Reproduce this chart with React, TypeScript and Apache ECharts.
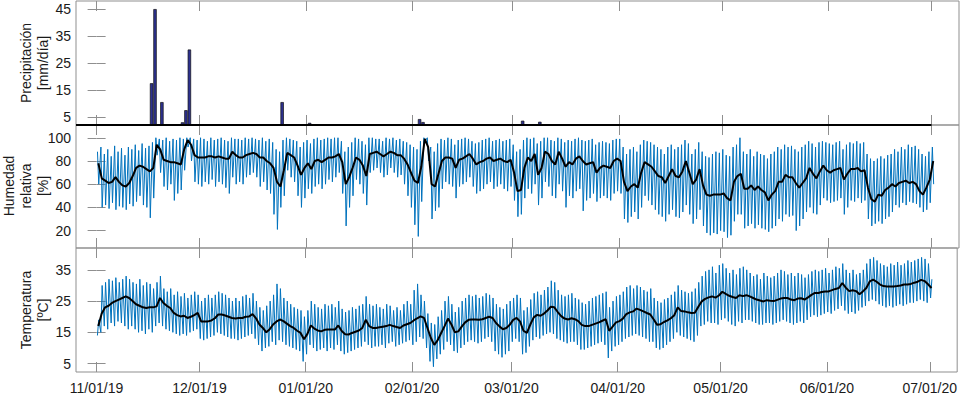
import React, { useEffect, useRef } from "react";
import * as echarts from "echarts";

// ---------- DATA ----------
const START_DATE = "2019-11-01";
const tickDates = ["2019-11-01", "2019-12-01", "2020-01-01", "2020-02-01", "2020-03-01", "2020-04-01", "2020-05-01", "2020-06-01", "2020-07-01"];
const tickLabels = ["11/01/19", "12/01/19", "01/01/20", "02/01/20", "03/01/20", "04/01/20", "05/01/20", "06/01/20", "07/01/20"];

const precipDates = ["2019-11-17", "2019-11-18", "2019-11-20", "2019-11-26", "2019-11-27", "2019-11-28", "2019-12-25", "2020-01-02", "2020-02-03", "2020-02-04", "2020-03-04", "2020-03-09"];
const precipValues = [17.5, 45, 10.5, 3, 7.5, 30, 10.5, 2.8, 4.2, 3.1, 3.6, 3.2];

const precipTicks = [5, 15, 25, 35, 45];
const humTicks = [20, 40, 60, 80, 100];
const tempTicks = [5, 15, 25, 35];

// daily values, day 0 = 2019-11-01
const humMean = [
  78, 65, 63, 61, 62, 66, 62, 59, 58, 61,
  67, 74, 76, 75, 73, 71, 74, 94, 90, 81,
  80, 79, 79, 78, 77, 90, 98, 94, 85, 83,
  83, 83, 84, 84, 83, 84, 83, 82, 82, 88,
  85, 83, 83, 85, 86, 87, 86, 83, 83, 80,
  78, 74, 62, 58, 72, 87, 85, 83, 76, 68,
  74, 78, 73, 80, 81, 79, 81, 83, 83, 84,
  86, 79, 60, 66, 74, 83, 81, 76, 67, 86,
  87, 88, 86, 84, 86, 88, 87, 85, 85, 82,
  77, 70, 63, 61, 75, 99, 92, 60, 58, 69,
  80, 83, 83, 82, 74, 81, 82, 84, 86, 82,
  77, 79, 80, 82, 83, 80, 81, 82, 80, 79,
  81, 70, 54, 55, 74, 83, 80, 86, 68, 74,
  88, 86, 80, 77, 88, 82, 75, 79, 77, 82,
  84, 80, 77, 78, 79, 70, 74, 76, 75, 74,
  80, 82, 80, 62, 54, 58, 60, 57, 70, 79,
  77, 75, 71, 67, 66, 61, 67, 73, 67, 66,
  71, 80, 70, 60, 64, 73, 59, 51, 50, 51,
  51, 51, 52, 48, 46, 62, 67, 69, 56, 56,
  59, 55, 58, 55, 53, 46, 51, 54, 62, 62,
  68, 66, 66, 61, 57, 61, 65, 74, 69, 65,
  71, 76, 72, 70, 72, 73, 74, 64, 69, 73,
  73, 74, 71, 72, 57, 47, 45, 51, 50, 55,
  57, 60, 58, 61, 62, 63, 61, 62, 60, 54,
  51, 57, 64, 80,
];
const humMax = [
  88, 92, 86, 90, 84, 93, 88, 91, 85, 92,
  90, 94, 89, 95, 91, 93, 96, 100, 99, 98,
  100, 97, 99, 98, 100, 99, 100, 100, 99, 98,
  100, 99, 97, 100, 98, 99, 100, 98, 97, 100,
  99, 99, 98, 100, 99, 100, 99, 98, 100, 97,
  99, 96, 90, 88, 98, 100, 99, 98, 97, 92,
  96, 98, 95, 99, 100, 98, 99, 100, 99, 100,
  100, 97, 88, 92, 96, 100, 99, 97, 94, 100,
  100, 99, 99, 97, 100, 99, 100, 98, 99, 97,
  96, 94, 92, 90, 97, 100, 100, 92, 88, 95,
  99, 98, 100, 99, 94, 98, 99, 100, 99, 97,
  95, 96, 98, 99, 100, 97, 98, 99, 97, 98,
  99, 94, 88, 90, 98, 100, 99, 100, 95, 97,
  100, 100, 98, 97, 100, 99, 96, 98, 97, 99,
  100, 98, 97, 98, 99, 94, 96, 97, 96, 95,
  98, 99, 99, 92, 86, 90, 92, 88, 94, 98,
  97, 96, 94, 92, 90, 86, 92, 94, 90, 92,
  94, 98, 95, 86, 90, 96, 88, 84, 83, 86,
  88, 87, 90, 85, 84, 92, 94, 100, 88, 86,
  90, 84, 88, 86, 85, 82, 86, 88, 92, 90,
  94, 92, 93, 90, 88, 92, 94, 97, 95, 92,
  96, 97, 96, 95, 94, 96, 97, 90, 94, 96,
  95, 97, 95, 96, 86, 82, 80, 82, 84, 82,
  85, 86, 90, 88, 92, 90, 94, 92, 93, 90,
  86, 84, 88, 92,
];
const humMin = [
  60, 40, 42, 39, 44, 38, 41, 40, 38, 43,
  41, 45, 50, 42, 40, 31, 48, 85, 70, 58,
  55, 60, 46, 52, 55, 72, 92, 80, 62, 60,
  58, 62, 60, 64, 58, 62, 60, 57, 52, 66,
  60, 62, 60, 66, 68, 70, 66, 58, 62, 55,
  52, 34, 21, 40, 50, 72, 66, 62, 50, 40,
  48, 56, 52, 58, 60, 56, 60, 64, 62, 66,
  70, 52, 24, 40, 50, 64, 60, 52, 42, 70,
  72, 74, 70, 66, 68, 74, 70, 66, 68, 60,
  50, 40, 25, 15, 45, 97, 80, 30, 37, 40,
  56, 62, 60, 58, 48, 58, 60, 62, 66, 58,
  52, 54, 56, 60, 62, 56, 58, 60, 56, 54,
  58, 46, 32, 34, 48, 56, 52, 60, 42, 48,
  62, 58, 50, 48, 60, 54, 40, 50, 48, 54,
  56, 37, 46, 48, 52, 45, 48, 50, 48, 46,
  52, 54, 52, 30, 27, 32, 36, 30, 40, 50,
  46, 42, 38, 34, 32, 28, 34, 38, 32, 31,
  36, 42, 34, 26, 30, 38, 24, 18, 16, 18,
  17, 20, 19, 14, 16, 28, 34, 34, 22, 24,
  26, 22, 25, 22, 21, 19, 22, 24, 30, 28,
  34, 32, 33, 20, 24, 30, 36, 40, 35, 34,
  42, 48, 46, 44, 45, 46, 48, 34, 40, 46,
  45, 48, 44, 46, 30, 24, 26, 28, 26, 30,
  32, 36, 42, 40, 44, 42, 45, 44, 43, 40,
  36, 38, 44, 60,
];
const tempMean = [
  17, 21, 23, 23.5, 24.4, 25, 25.5, 26, 26.5, 26,
  25, 24, 23.5, 23, 22.8, 23, 23, 23.3, 26, 24.4,
  23.5, 22.8, 21.2, 20.5, 20.1, 20.3, 19.6, 20, 20.5, 21.2,
  18.5, 18.5, 18.5, 18.8, 19.5, 20.7, 20.7, 20.4, 20, 19.6,
  19.4, 19.6, 19.6, 20, 20.1, 20.8, 19.5, 17.5, 16.4, 15,
  16, 17.5, 18.5, 19.1, 18.6, 17.8, 17, 16.4, 15.5, 14.8,
  12.8, 14.5, 17.2, 16.2, 15.6, 15.3, 15.8, 15.9, 15.9, 15.9,
  17.2, 15.4, 14.4, 14.3, 14.8, 15.2, 15.6, 16.4, 19, 17,
  16.4, 16.4, 16.6, 16.8, 17, 17.4, 17, 16.7, 16.4, 17.2,
  17.6, 18, 18.8, 19.5, 20.1, 19.6, 16.4, 13.2, 11, 12.5,
  14.8, 17, 19.4, 17.5, 15, 15.3, 16.8, 18.2, 19, 19.1,
  19.1, 19, 19.2, 19.6, 20, 19.6, 18, 16.9, 16, 16.4,
  17.4, 19, 19.6, 18.5, 15.5, 14.8, 17.5, 19.8, 20.6, 20.3,
  21, 22, 23.2, 23, 21.5, 20.2, 19.4, 19.1, 19.5, 19.2,
  18.6, 17.4, 17, 17, 17.4, 17.8, 18.2, 18.7, 19.2, 15.5,
  16.8, 18.2, 18.6, 19.4, 20.8, 21.4, 21.7, 22.6, 22.2, 21.7,
  21.2, 20.7, 19.1, 17.4, 17.6, 18.3, 18.8, 19.5, 20.5, 23,
  21.8, 21.7, 21.4, 21.2, 21.3, 23.2, 24.9, 25.7, 26.2, 26.5,
  26.1, 26.8, 28, 27.3, 26.7, 26.3, 26, 26.9, 26.6, 26.9,
  26.5, 26, 25.5, 25.2, 24.9, 25.3, 25.1, 25, 25.4, 25.8,
  26, 26, 25.5, 25.3, 25.8, 25.9, 25.5, 26.2, 27, 27.6,
  27.6, 27.9, 28.1, 28.1, 28.5, 28.9, 29.2, 30.8, 29.3, 28.2,
  28.5, 28.2, 27.2, 28.1, 29.2, 31.3, 31.9, 31.2, 30.3, 29.8,
  29.7, 29.7, 29.7, 29.8, 30, 30.3, 30.3, 30.5, 30.9, 31.2,
  31.8, 31.4, 30.4, 29.2,
];
const tempMax = [
  19, 30, 31, 32, 31.5, 32.5, 31, 32, 33, 32,
  31, 30.5, 32, 30, 31, 30.5, 29, 31, 33, 29,
  28, 29, 27, 28, 26.5, 27.5, 26, 27, 28, 27,
  25, 26, 27, 26, 27, 28, 27.5, 27, 26, 25,
  26, 25, 26.5, 27, 26, 27.5, 25, 23, 22, 23.5,
  25, 27, 30.5, 29, 26, 25, 24, 23, 22.5, 22,
  20, 22, 25, 24, 23, 22.5, 24, 23.5, 24, 23,
  25, 22.5, 21.5, 22, 23, 22.5, 23.5, 24, 26.5, 24,
  23.5, 24, 23, 22.5, 24, 23.5, 22, 23, 22, 24,
  25, 24, 28.5, 30.5, 27, 25, 21, 18, 17.5, 20,
  22, 25, 26.5, 24, 21.5, 23, 25, 26, 27, 26.5,
  27, 26, 26.5, 27.5, 27, 26, 24, 23, 22.5, 24,
  25, 26, 27, 26, 22, 23, 25.5, 27.5, 28, 27,
  28.5, 29.5, 31.5, 31, 28.5, 27, 26.5, 27, 27.5, 26,
  25.5, 24.5, 24, 25, 26, 26.5, 27, 27.5, 28, 23,
  25, 26.5, 27, 28, 29.5, 30, 29, 30, 29.5, 28.5,
  28, 29, 26, 25, 24.5, 25.5, 26, 27, 28, 30,
  28.5, 28, 27.5, 28, 29, 31, 33, 34.5, 35, 36,
  34, 36.5, 37, 35.5, 34, 35, 33.5, 35.5, 36, 35,
  34, 33, 33.5, 32, 34, 33, 32.5, 33, 34, 35,
  34.5, 33.5, 34, 33, 34, 33.5, 32.5, 33.5, 34.5, 35,
  34.5, 35, 35.5, 34, 35, 36, 35.5, 37, 35, 34,
  35, 33.5, 34, 35, 37, 38.5, 39, 38, 37, 36.5,
  36, 37, 36.5, 37.5, 36.5, 37, 38, 37.5, 38, 38.5,
  39, 38.5, 37, 32,
];
const tempMin = [
  14, 15, 17, 16, 18, 17, 18.5, 18, 17, 16,
  17, 16, 15, 15.5, 14.5, 16, 15, 17, 18, 17,
  16, 15.5, 15, 14.5, 14, 14.5, 14, 15, 15.5, 16,
  13, 12.5, 13, 13.5, 14, 15, 14.5, 14, 13.5, 13,
  13, 12.5, 13, 13.5, 14, 14.5, 13, 11, 9, 10,
  10.5, 12, 11, 12.5, 12, 11, 10.5, 10, 9.5, 9,
  5.7, 8, 11, 10, 9, 9.5, 10, 9, 10, 9.5,
  11, 9, 8, 8.5, 9, 9.5, 10, 10.5, 12, 11,
  10, 10.5, 10.5, 11, 10, 11.5, 12, 10.5, 11, 11.5,
  12, 12.5, 11, 12, 13.5, 13, 10, 5.7, 4, 6.5,
  8, 9.5, 12, 11, 9, 8.5, 10, 11, 12, 12.5,
  12, 11.5, 12, 13, 13.5, 12, 9, 8, 7, 8,
  9, 12, 13, 12, 8, 8.5, 10.5, 12.5, 13.5, 13,
  14, 14.5, 15, 14.5, 13, 12.5, 12, 11.5, 12, 12,
  11, 9.5, 9.5, 10, 10.5, 11, 11.5, 12, 11, 6.8,
  9, 10.5, 11, 12, 13, 13.5, 14, 14.5, 14, 13.5,
  13, 12, 12, 10, 9.5, 10, 11, 12, 13, 15,
  14, 13.5, 13, 12.5, 12, 14, 17, 17.5, 18.5, 18,
  18, 17.5, 19, 19.5, 18.5, 17.5, 17, 18.5, 18, 19,
  19, 18.5, 18, 17.5, 17.5, 18, 18, 17.5, 18, 18.5,
  19, 18.5, 18, 17.5, 18, 18.5, 18, 19, 20, 20.5,
  20, 20.5, 21, 21.5, 21, 22, 22.5, 23.5, 22, 21,
  21.5, 21, 22, 23, 23.5, 25, 25.5, 25, 24, 23.5,
  23, 23.5, 23, 23.5, 24, 23.5, 24, 24.5, 24.5, 25,
  25.5, 25, 24.5, 26,
];

// ---------- helpers ----------
const DAY_MS = 86400000;
const dayOf = (s: string) => (Date.parse(s) - Date.parse(START_DATE)) / DAY_MS;
const tickDays = tickDates.map(dayOf);

const FONT = "'Liberation Sans', Arial, Helvetica, sans-serif";
const FRAME = "#8f8f8f";
const TEXT = "#1a1a1a";
const BLUE = "#0072BD";
const X_MIN = -6;
const X_MAX = 251;

const grids = [
  { top: 1, height: 124 },
  { top: 125, height: 123 },
  { top: 248, height: 124 },
];

function buildOption() {
  const precipData = precipDates.map((d, i) => [dayOf(d), precipValues[i]]);
  const humBlue: number[][] = [];
  const humBlack: number[][] = [];
  const tempBlue: number[][] = [];
  const tempBlack: number[][] = [];
  humMean.forEach((_, d) => {
    humBlue.push([d + 0.25, humMax[d]]);
    humBlue.push([d + 0.62, humMin[d]]);
    humBlack.push([d + 0.5, humMean[d]]);
    tempBlue.push([d + 0.25, tempMin[d]]);
    tempBlue.push([d + 0.62, tempMax[d]]);
    tempBlack.push([d + 0.5, tempMean[d]]);
  });
  const lastDay = tickDays[tickDays.length - 1];

  const xAxis: any[] = [];
  grids.forEach((_, gi) => {
    ["bottom", "top"].forEach((pos) => {
      xAxis.push({
        type: "value",
        gridIndex: gi,
        position: pos,
        min: X_MIN,
        max: X_MAX,
        axisLine: { show: false },
        splitLine: { show: false },
        axisTick: {
          show: true,
          inside: true,
          length: 10,
          customValues: tickDays,
          lineStyle: { color: FRAME, width: 1 },
        },
        axisLabel: {
          show: gi === 2 && pos === "bottom",
          customValues: tickDays,
          margin: 9,
          fontFamily: FONT,
          fontSize: 14,
          color: TEXT,
          formatter: (v: number) => {
            const i = tickDays.findIndex((t) => Math.abs(t - v) < 0.01);
            return i >= 0 ? tickLabels[i] : "";
          },
        },
      });
    });
  });

  const yRanges = [
    { min: 2, max: 48, ticks: precipTicks },
    { min: 5, max: 111, ticks: humTicks },
    { min: 2.3, max: 42, ticks: tempTicks },
  ];
  const yAxis: any[] = [];
  yRanges.forEach((r, gi) => {
    ["left", "right"].forEach((pos) => {
      yAxis.push({
        type: "value",
        gridIndex: gi,
        position: pos,
        min: r.min,
        max: r.max,
        axisLine: { show: false },
        splitLine: { show: false },
        axisTick: {
          show: true,
          inside: true,
          length: 9,
          customValues: r.ticks,
          lineStyle: { color: FRAME, width: 1 },
        },
        axisLabel: {
          show: pos === "left",
          customValues: r.ticks,
          margin: 5,
          fontFamily: FONT,
          fontSize: 14,
          color: TEXT,
        },
      });
    });
  });

  const titles = [
    { text: "Precipitación\n[mm/día]", x: 34, y: 63 },
    { text: "Humedad\nrelativa\n[%]", x: 26, y: 186 },
    { text: "Temperatura\n[ºC]", x: 34, y: 310 },
  ];

  return {
    animation: false,
    backgroundColor: "#ffffff",
    grid: grids.map((g) => ({
      left: 76,
      right: 1,
      top: g.top,
      height: g.height,
      show: true,
      borderColor: FRAME,
      borderWidth: 1,
      backgroundColor: "transparent",
    })),
    xAxis,
    yAxis,
    graphic: titles.map((t) => ({
      type: "text",
      x: t.x,
      y: t.y,
      rotation: Math.PI / 2,
      style: {
        text: t.text,
        align: "center",
        verticalAlign: "middle",
        fontFamily: FONT,
        fontSize: 14,
        lineHeight: 17,
        fill: TEXT,
      },
    })),
    series: [
      {
        type: "bar",
        xAxisIndex: 0,
        yAxisIndex: 0,
        data: precipData,
        barWidth: 3.4,
        itemStyle: { color: "#2d3190", borderColor: "#111", borderWidth: 0.7 },
      },
      {
        type: "line",
        xAxisIndex: 0,
        yAxisIndex: 0,
        data: [[X_MIN, yRanges[0].min], [lastDay, yRanges[0].min]],
        symbol: "none",
        clip: false,
        lineStyle: { color: "#000", width: 2 },
        z: 5,
      },
      {
        type: "line",
        xAxisIndex: 2,
        yAxisIndex: 2,
        data: humBlue,
        symbol: "none",
        lineStyle: { color: BLUE, width: 1 },
      },
      {
        type: "line",
        xAxisIndex: 2,
        yAxisIndex: 2,
        data: humBlack,
        symbol: "none",
        lineStyle: { color: "#000", width: 2 },
      },
      {
        type: "line",
        xAxisIndex: 4,
        yAxisIndex: 4,
        data: tempBlue,
        symbol: "none",
        lineStyle: { color: BLUE, width: 1 },
      },
      {
        type: "line",
        xAxisIndex: 4,
        yAxisIndex: 4,
        data: tempBlack,
        symbol: "none",
        lineStyle: { color: "#000", width: 2 },
      },
    ],
  };
}

export default function App() {
  const ref = useRef<HTMLDivElement>(null);
  useEffect(() => {
    if (!ref.current) return;
    const chart = echarts.init(ref.current, null, { renderer: "svg" });
    chart.setOption(buildOption() as any);
    return () => chart.dispose();
  }, []);
  return (
    <div
      ref={ref}
      style={{ position: "fixed", left: 0, top: 0, width: 960, height: 398, background: "#fff" }}
    />
  );
}
